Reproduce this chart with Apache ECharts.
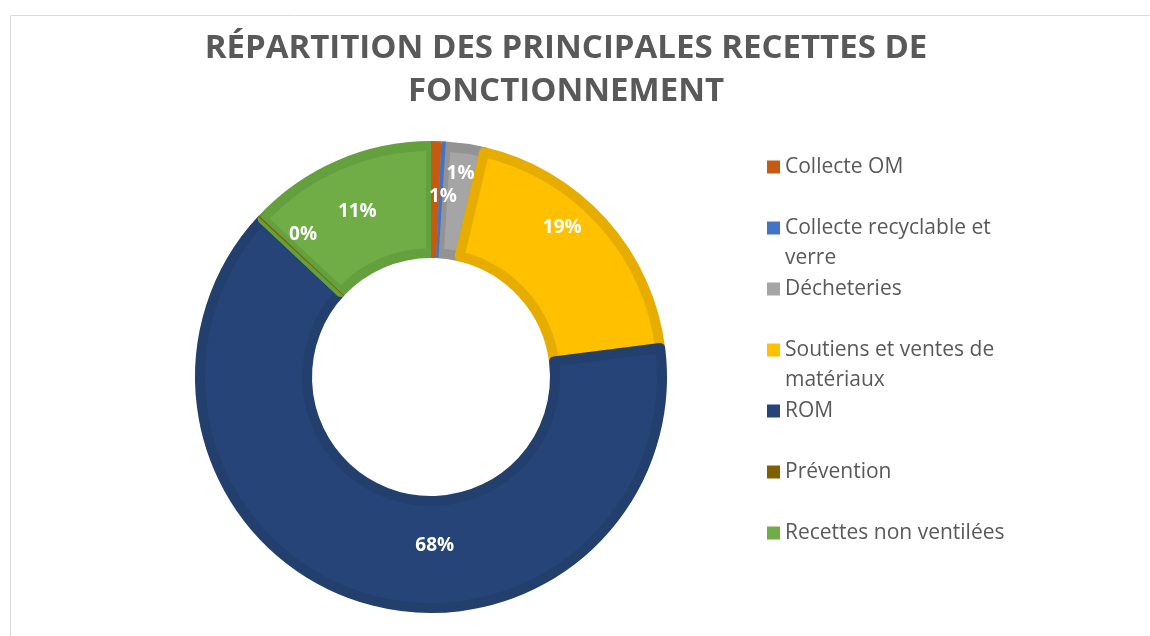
<!DOCTYPE html>
<html>
<head>
<meta charset="utf-8">
<script src="https://cdn.jsdelivr.net/npm/echarts@6/dist/echarts.min.js"></script>
<style>
  html, body { margin: 0; background: #fff; }
  #chart { width: 1150px; height: 636px; }
</style>
</head>
<body>
<div id="chart"></div>
<script>
const categories = ['Collecte OM', 'Collecte recyclable et verre', 'Décheteries', 'Soutiens et ventes de matériaux', 'ROM', 'Prévention', 'Recettes non ventilées']
// parts (%) mesurées sur l'anneau
const values = [0.7, 0.3, 2.7, 19.3, 63.9, 0.1, 13.0]
// étiquettes imprimées sur le graphique
const pctLabels = ['1%', '1%', '1%', '19%', '68%', '0%', '11%']
// libellés de légende, coupés comme dans l'original
const legendLabels = ['Collecte OM', 'Collecte recyclable et\nverre', 'Décheteries', 'Soutiens et ventes de\nmatériaux', 'ROM', 'Prévention', 'Recettes non ventilées']

const colors = ['#C55A11', '#4472C4', '#A5A5A5', '#FFC000', '#264478', '#7F6000', '#70AD47']
const rimColors = ['#C55A11', '#4472C4', '#939393', '#E6AD00', '#223F6D', '#7F6000', '#64A03E']
const tiny = ['Collecte OM', 'Collecte recyclable et verre', 'Prévention']
// décalage des étiquettes (placées à la main dans Excel)
const labelShift = { 0: [8, 0], 2: [3, -25], 3: [-3, -29], 4: [59, -3], 5: [4, -19], 6: [-2, 0] }

const chart = echarts.init(document.getElementById('chart'))
const font = 'Open Sans'

const option = {
  animation: false,
  title: {
    text: 'RÉPARTITION DES PRINCIPALES RECETTES DE\nFONCTIONNEMENT',
    left: 561,
    top: 22,
    textAlign: 'center',
    textStyle: { fontFamily: font, fontSize: 33, fontWeight: 'bold', color: '#595959', lineHeight: 43 }
  },
  graphic: [{
    type: 'rect',
    shape: { x: 10.5, y: 15.5, width: 1200, height: 700 },
    style: { fill: 'none', stroke: '#D9D9D9', lineWidth: 1 },
    silent: true
  }],
  legend: categories.map((name, i) => {
    const wrapped = legendLabels[i].includes('\n')
    return {
      data: [name],
      orient: 'vertical',
      left: 767,
      top: 167 + i * 61 - (wrapped ? 45 : 15),
      padding: 0,
      selectedMode: false,
      icon: 'rect',
      itemWidth: 13,
      itemHeight: 13,
      itemStyle: { borderWidth: 0 },
      // une ligne vide en tête garde le carré aligné sur la première ligne
      formatter: n => {
        const t = legendLabels[categories.indexOf(n)]
        return t.includes('\n') ? ' \n' + t : t
      },
      textStyle: { fontFamily: font, fontSize: 21, color: '#595959', lineHeight: 30 }
    }
  }),
  series: [
    {
      type: 'pie',
      center: [431, 377],
      radius: [124, 231],
      avoidLabelOverlap: false,
      data: categories.map((name, i) => ({
        name,
        value: values[i],
        itemStyle: {
          color: colors[i],
          borderColor: rimColors[i],
          borderWidth: tiny.includes(name) ? 0 : 10
        },
        label: { show: i !== 1 }
      })),
      label: {
        position: 'inside',
        formatter: p => pctLabels[p.dataIndex],
        color: '#fff',
        fontFamily: font,
        fontSize: 19,
        fontWeight: 'bold'
      },
      labelLine: { show: false },
      labelLayout: p => {
        const s = labelShift[p.dataIndex] || [0, 0]
        return { dx: s[0], dy: s[1] }
      },
      emphasis: { disabled: true }
    },
    {
      // petites parts redessinées par-dessus les bordures voisines
      type: 'pie',
      center: [431, 377],
      radius: [119, 236],
      silent: true,
      data: categories.map((name, i) => ({
        name,
        value: values[i],
        itemStyle: { color: tiny.includes(name) ? colors[i] : 'rgba(0,0,0,0)' }
      })),
      label: { show: false },
      labelLine: { show: false },
      emphasis: { disabled: true }
    }
  ]
}

chart.setOption(option)
window.addEventListener('resize', () => chart.resize())
</script>
</body>
</html>
